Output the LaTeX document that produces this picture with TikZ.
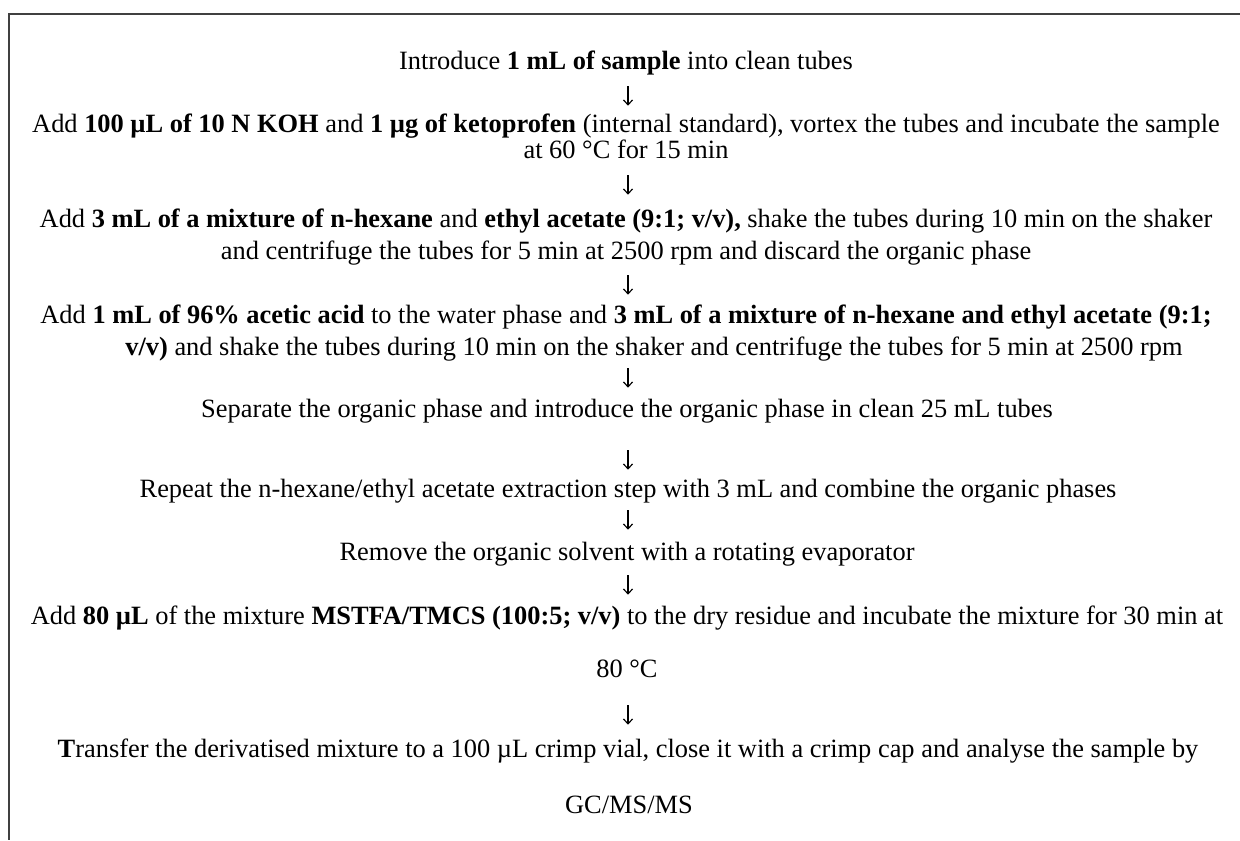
\documentclass[tikz,border=0pt]{standalone}
\usepackage{fontspec}
\setmainfont{Liberation Serif}
\usetikzlibrary{arrows.meta}
\begin{document}
\begin{tikzpicture}[x=0.5pt,y=-0.5pt,
  txt/.style={font=\fontsize{13.2}{15}\selectfont, inner sep=0pt, anchor=base, execute at begin node=\strut},
  arr/.style={-{Straight Barb[length=2.4pt,width=4.6pt]}, line width=0.6pt},
  frame/.style={line width=0.8pt, draw=black!75}]
\useasboundingbox (0,0) rectangle (1240,840);
\draw[frame] (1240,14) -- (9,14) -- (9,840);
\coordinate (ax) at (628,0);

\node[txt] (l1) at (626,69) {Introduce \textbf{1 mL of sample} into clean tubes};
\node[txt] (l2) at (626,133) {Add \textbf{100 µL of 10 N KOH} and \textbf{1 µg of ketoprofen} (internal standard), vortex the tubes and incubate the sample};
\node[txt] (l3) at (626,158) {at 60 °C for 15 min};
\node[txt] (l4) at (626,227) {Add \textbf{3 mL of a mixture of n-hexane} and \textbf{ethyl acetate (9:1; v/v),} shake the tubes during 10 min on the shaker};
\node[txt] (l5) at (626,259) {and centrifuge the tubes for 5 min at 2500 rpm and discard the organic phase};
\node[txt] (l6) at (626,323) {Add \textbf{1 mL of 96\% acetic acid} to the water phase and \textbf{3 mL of a mixture of n-hexane and ethyl acetate (9:1;}};
\node[txt] (l7) at (654,355) {\textbf{v/v)} and shake the tubes during 10 min on the shaker and centrifuge the tubes for 5 min at 2500 rpm};
\node[txt] (l8) at (627,417) {Separate the organic phase and introduce the organic phase in clean 25 mL tubes};
\node[txt] (l9) at (628,497) {Repeat the n-hexane/ethyl acetate extraction step with 3 mL and combine the organic phases};
\node[txt] (l10) at (627,560) {Remove the organic solvent with a rotating evaporator};
\node[txt] (l11) at (627,624) {Add \textbf{80 µL} of the mixture \textbf{MSTFA/TMCS (100:5; v/v)} to the dry residue and incubate the mixture for 30 min at};
\node[txt] (l12) at (627,677) {80 °C};
\node[txt] (l13) at (628,757) {\textbf{T}ransfer the derivatised mixture to a 100 µL crimp vial, close it with a crimp cap and analyse the sample by};
\node[txt] (l14) at (629,813) {GC/MS/MS};

\draw[arr, shorten <=4pt, shorten >=3pt] (l1.south -| ax) -- (l2.north -| ax);
\draw[arr, shorten <=4pt, shorten >=5.5pt] (l3.south -| ax) -- (l4.north -| ax);
\draw[arr, shorten <=3.5pt, shorten >=3.5pt] (l5.south -| ax) -- (l6.north -| ax);
\draw[arr, shorten <=2pt, shorten >=4pt] (l7.south -| ax) -- (l8.north -| ax);
\draw[arr, shorten <=12pt, shorten >=3pt] (l8.south -| ax) -- (l9.north -| ax);
\draw[arr, shorten <=2pt, shorten >=4.5pt] (l9.south -| ax) -- (l10.north -| ax);
\draw[arr, shorten <=3pt, shorten >=4pt] (l10.south -| ax) -- (l11.north -| ax);
\draw[arr, shorten <=9.5pt, shorten >=5.5pt] (l12.south -| ax) -- (l13.north -| ax);
\end{tikzpicture}
\end{document}
